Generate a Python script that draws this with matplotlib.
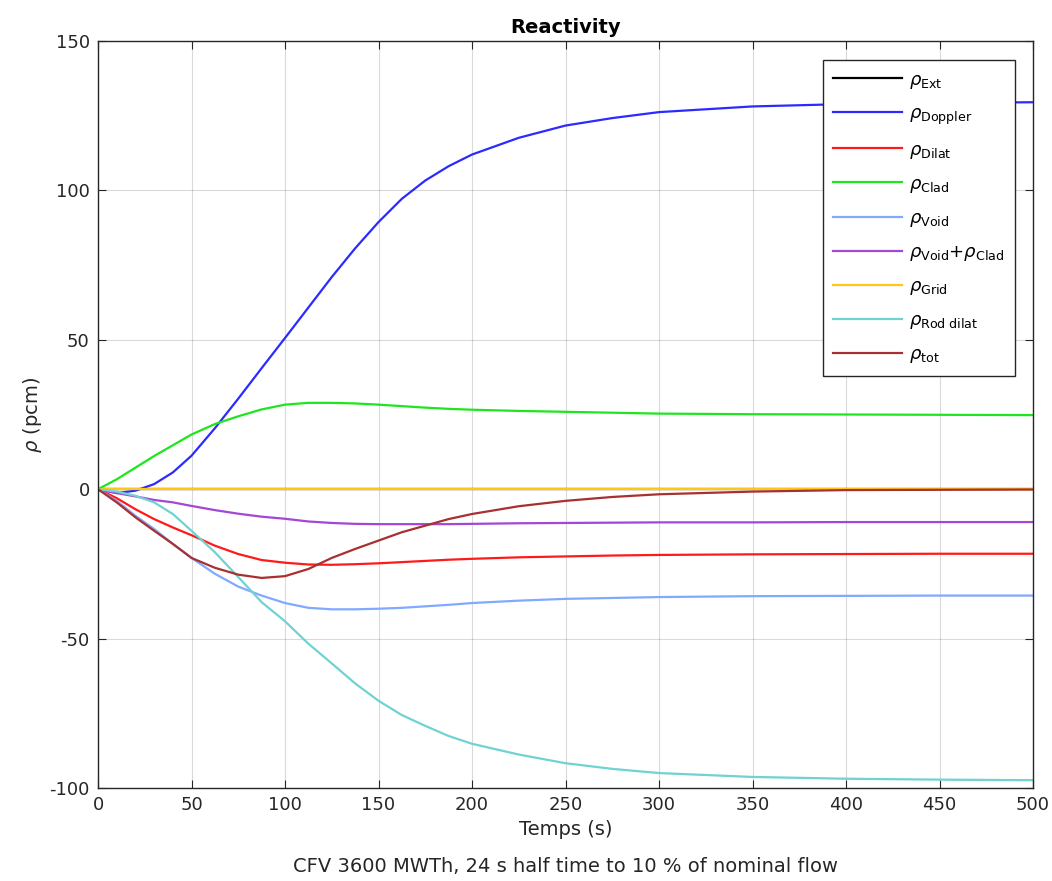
import numpy as np
import matplotlib
matplotlib.use('Agg')
import matplotlib.pyplot as plt

plt.rcParams['axes.unicode_minus'] = False

# time (s)
t = [0, 10, 20, 30, 40, 50, 62.5, 75, 87.5, 100, 112.5, 125, 137.5, 150, 162.5,
     175, 187.5, 200, 225, 250, 275, 300, 350, 400, 450, 500]

# reactivity components (pcm)
rho_ext = [0] * len(t)
rho_doppler = [0, -1.3, -0.5, 1.7, 5.6, 11.2, 20.4, 30.3, 40.5, 50.6, 60.8, 71.0, 80.6, 89.4, 97.2,
               103.3, 108.1, 112.0, 117.6, 121.7, 124.2, 126.2, 128.1, 128.9, 129.3, 129.5]
rho_dilat = [0, -3.0, -6.7, -10.0, -12.8, -15.4, -18.9, -21.7, -23.7, -24.6, -25.2, -25.3, -25.1, -24.8, -24.4,
             -24.0, -23.6, -23.3, -22.8, -22.5, -22.2, -22.0, -21.8, -21.7, -21.6, -21.6]
rho_clad = [0, 3.3, 7.2, 11.1, 14.7, 18.3, 21.8, 24.4, 26.7, 28.3, 28.9, 28.9, 28.7, 28.3, 27.8,
            27.3, 26.9, 26.6, 26.2, 25.9, 25.6, 25.3, 25.1, 25.0, 24.9, 24.8]
rho_void = [0, -3.9, -8.9, -13.3, -18.3, -23.0, -28.3, -32.6, -35.6, -38.1, -39.7, -40.2, -40.2, -40.0, -39.7,
            -39.2, -38.7, -38.1, -37.3, -36.7, -36.4, -36.1, -35.8, -35.7, -35.6, -35.6]
rho_void_clad = [0, -1.3, -2.4, -3.6, -4.4, -5.6, -7.0, -8.2, -9.2, -9.9, -10.8, -11.3, -11.6, -11.7, -11.7,
                 -11.7, -11.7, -11.6, -11.4, -11.3, -11.2, -11.1, -11.1, -11.0, -11.0, -11.0]
rho_grid = [0] * len(t)
rho_rod = [0, -0.8, -2.2, -4.4, -8.3, -13.9, -21.1, -29.4, -37.8, -44.2, -51.7, -58.3, -65.0, -70.8, -75.6,
           -79.2, -82.6, -85.2, -88.8, -91.7, -93.6, -95.0, -96.3, -96.9, -97.2, -97.4]
rho_tot = [0, -4.4, -9.4, -13.9, -18.3, -23.0, -26.3, -28.6, -29.7, -29.1, -26.7, -23.0, -20.0, -17.2, -14.4,
           -12.2, -10.0, -8.3, -5.7, -3.9, -2.6, -1.7, -0.8, -0.3, -0.2, -0.1]

fig = plt.figure(figsize=(10.52, 8.81), dpi=100)
ax = fig.add_axes([98/1052, 1 - 788/881, 935/1052, 747/881])

lw = 1.6
ax.plot(t, rho_ext, color='k', lw=lw, label=r'$\rho_{\mathrm{Ext}}$')
ax.plot(t, rho_doppler, color='#2b2bff', lw=lw, label=r'$\rho_{\mathrm{Doppler}}$')
ax.plot(t, rho_dilat, color='#ff1a1a', lw=lw, label=r'$\rho_{\mathrm{Dilat}}$')
ax.plot(t, rho_clad, color='#1ee61e', lw=lw, label=r'$\rho_{\mathrm{Clad}}$')
ax.plot(t, rho_void, color='#80aaff', lw=lw, label=r'$\rho_{\mathrm{Void}}$')
ax.plot(t, rho_void_clad, color='#a347d6', lw=lw, label=r'$\rho_{\mathrm{Void}}$+$\rho_{\mathrm{Clad}}$')
ax.plot(t, rho_grid, color='#ffc61a', lw=lw, label=r'$\rho_{\mathrm{Grid}}$')
ax.plot(t, rho_rod, color='#70d2d2', lw=lw, label=r'$\rho_{\mathrm{Rod\ dilat}}$')
ax.plot(t, rho_tot, color='#a83030', lw=lw, label=r'$\rho_{\mathrm{tot}}$')

ax.set_xlim(0, 500)
ax.set_ylim(-100, 150)
ax.set_xticks(np.arange(0, 501, 50))
ax.set_yticks(np.arange(-100, 151, 50))
ax.grid(True, color='#000000', alpha=0.15, lw=0.8)
ax.tick_params(direction='in', top=True, right=True, length=6, labelsize=13,
               colors='#262626', pad=6)
for s in ax.spines.values():
    s.set_color('#262626')
    s.set_linewidth(1.0)

ax.set_title('Reactivity', fontsize=14, fontweight='bold', pad=6)
ax.set_ylabel(r'$\rho$ (pcm)', fontsize=14, color='#262626', labelpad=4)
ax.set_xlabel('Temps (s)', fontsize=14, color='#262626', labelpad=4)
fig.text((98 + 1033) / 2 / 1052, 1 - 866/881, 'CFV 3600 MWTh, 24 s half time to 10 % of nominal flow',
         ha='center', va='center', fontsize=14, color='#262626')

leg = ax.legend(loc='upper right', bbox_to_anchor=(0.981, 0.975), borderaxespad=0,
                fontsize=13, handlelength=3.8, labelspacing=0.78, fancybox=False,
                framealpha=1, edgecolor='#262626', borderpad=0.6, handletextpad=0.4)
leg.get_frame().set_linewidth(1.0)

fig.savefig('out.png', dpi=100)
